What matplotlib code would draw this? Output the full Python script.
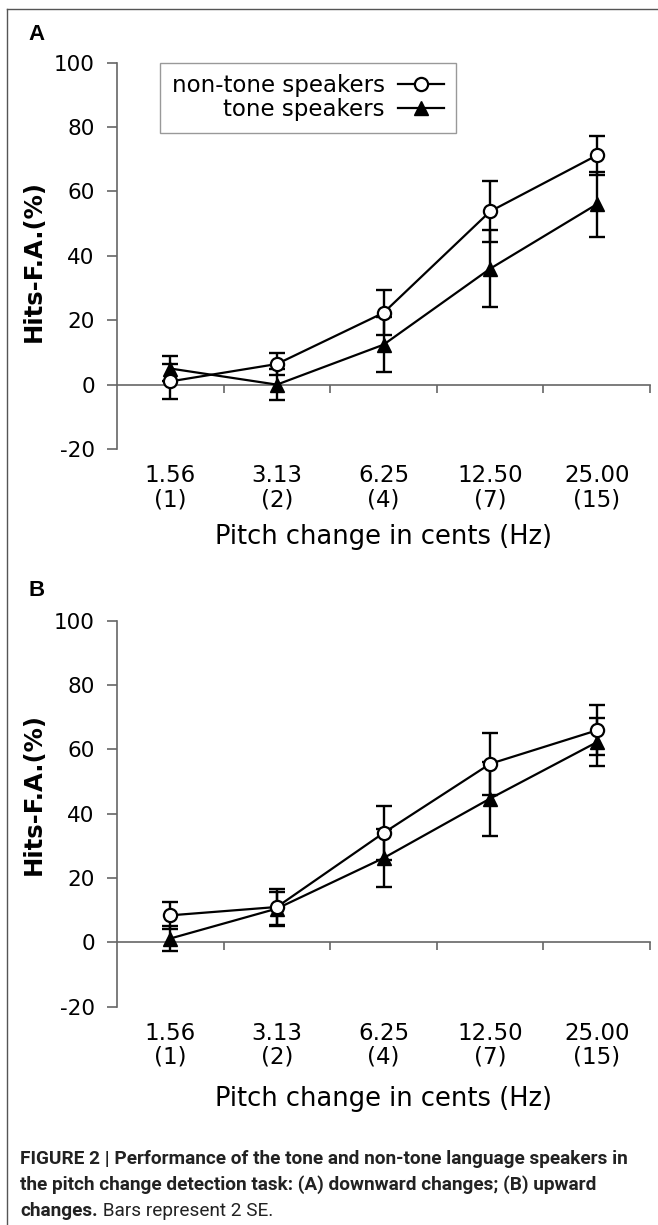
import matplotlib
matplotlib.use('Agg')
import matplotlib.pyplot as plt
from matplotlib.lines import Line2D

plt.rcParams['font.family'] = ['DejaVu Sans']
plt.rcParams['axes.unicode_minus'] = False

# category labels: pitch change in cents (Hz)
categories = ['1.56\n(1)', '3.13\n(2)', '6.25\n(4)', '12.50\n(7)', '25.00\n(15)']
yticks = [-20, 0, 20, 40, 60, 80, 100]
series_names = ['non-tone speakers', 'tone speakers']

# panel A: downward changes (mean, 2 SE)
down_nontone = [1.0, 6.4, 22.3, 53.8, 71.2]
down_nontone_err = [5.4, 3.4, 7.0, 9.6, 6.1]
down_tone = [5.0, 0.0, 12.4, 36.0, 56.0]
down_tone_err = [4.0, 4.9, 8.5, 12.0, 10.0]

# panel B: upward changes (mean, 2 SE)
up_nontone = [8.4, 11.0, 34.0, 55.5, 65.9]
up_nontone_err = [4.2, 5.6, 8.3, 9.6, 7.8]
up_tone = [1.2, 10.5, 26.2, 44.7, 62.2]
up_tone_err = [4.0, 5.3, 9.1, 11.5, 7.4]

W, H = 658, 1225
FS = 15.5
AXIS_GREY = '#666666'
CAPTION_FAMILY = ['Liberation Sans Narrow', 'Roboto', 'DejaVu Sans']


def draw_panel(ax, nontone, nontone_err, tone, tone_err, ylabel_y, xlabel_y, legend=False):
    x = [i + 0.5 for i in range(len(categories))]

    # error bars first, then lines with markers on top
    for vals, errs in [(tone, tone_err), (nontone, nontone_err)]:
        ax.errorbar(x, vals, yerr=errs, fmt='none', ecolor='black',
                    elinewidth=1.7, capsize=5.5, capthick=1.7, zorder=2)
    h_tone, = ax.plot(x, tone, color='black', lw=1.6, marker='^', ms=10,
                      mfc='black', mec='black', zorder=3, label=series_names[1])
    h_non, = ax.plot(x, nontone, color='black', lw=1.6, marker='o', ms=9.5,
                     mfc='white', mec='black', mew=1.6, zorder=4, label=series_names[0])

    ax.set_xlim(0, len(categories))
    ax.set_ylim(-20, 100)
    ax.set_facecolor('none')
    for side in ['top', 'right', 'bottom']:
        ax.spines[side].set_visible(False)
    ax.spines['left'].set_color(AXIS_GREY)
    ax.spines['left'].set_linewidth(1.2)

    ax.set_yticks(yticks)
    ax.tick_params(axis='y', direction='out', length=7, width=1.2, color=AXIS_GREY,
                   pad=9, labelsize=FS)

    # category labels sit below the plot box
    ax.set_xticks([])
    ax.set_xticks(x, labels=categories, minor=True)
    ax.tick_params(axis='x', which='minor', length=0, pad=11, labelsize=16.5)
    for t in ax.get_xticklabels(minor=True):
        t.set_linespacing(1.05)

    # horizontal axis line at y = 0 with ticks between categories
    zero_ax = ax.secondary_xaxis(0, transform=ax.transData)
    zero_ax.set_xticks(range(1, len(categories) + 1))
    zero_ax.tick_params(axis='x', direction='out', length=6, width=1.2,
                        color=AXIS_GREY, labelbottom=False)
    zero_ax.spines['bottom'].set_color(AXIS_GREY)
    zero_ax.spines['bottom'].set_linewidth(1.2)

    ax.set_ylabel('Hits-F.A.(%)', fontsize=17.5, fontweight='bold')
    ax.yaxis.label.set_va('center')
    ax.yaxis.set_label_coords(-0.156, ylabel_y)
    ax.set_xlabel('Pitch change in cents (Hz)', fontsize=18.5)
    ax.xaxis.label.set_va('center')
    ax.xaxis.set_label_coords(0.5, xlabel_y)

    if legend:
        leg = ax.legend(handles=[h_non, h_tone], loc='upper left',
                        bbox_to_anchor=(0.081, 1.0), borderaxespad=0,
                        markerfirst=False, fancybox=False, edgecolor='#999999',
                        framealpha=1, fontsize=16.5, handlelength=2.0,
                        handletextpad=0.6, labelspacing=0.05, borderpad=0.5)
        leg.get_frame().set_linewidth(1.0)


fig = plt.figure(figsize=(W / 100, H / 100), dpi=100)

# background layer for border, panel letters and caption
bg = fig.add_axes([0, 0, 1, 1])
bg.set_xlim(0, W)
bg.set_ylim(H, 0)
bg.axis('off')
bg.add_line(Line2D([7, 7], [9, H], color='#555555', lw=1))
bg.add_line(Line2D([7, W], [9, 9], color='#555555', lw=1))

bg.text(28, 35, 'A', fontsize=16, fontweight='bold', family='Liberation Sans',
        ha='left', va='center')
bg.text(28, 590, 'B', fontsize=16, fontweight='bold', family='Liberation Sans',
        ha='left', va='center')

ax_a = fig.add_axes([117 / W, 1 - 449 / H, 533 / W, 386.3 / H])
draw_panel(ax_a, down_nontone, down_nontone_err, down_tone, down_tone_err,
           0.486, -0.228, legend=True)

ax_b = fig.add_axes([117 / W, 1 - 1006.7 / H, 533 / W, 386 / H])
draw_panel(ax_b, up_nontone, up_nontone_err, up_tone, up_tone_err,
           0.55, -0.239)

# caption
cap_kw = dict(family=CAPTION_FAMILY, fontsize=13.7, color='#222222', ha='left', va='baseline')
bg.text(20, 1164, 'FIGURE 2 | Performance of the tone and non-tone language speakers in',
        fontweight='bold', **cap_kw)
bg.text(20, 1190, 'the pitch change detection task: (A) downward changes; (B) upward',
        fontweight='bold', **cap_kw)
t3 = bg.text(20, 1216, 'changes.', fontweight='bold', **cap_kw)
bg.annotate(' Bars represent 2 SE.', xy=(1, 0), xycoords=t3, ha='left', va='bottom',
            family=CAPTION_FAMILY, fontsize=13.7, color='#222222')

fig.savefig('out.png', dpi=100)
